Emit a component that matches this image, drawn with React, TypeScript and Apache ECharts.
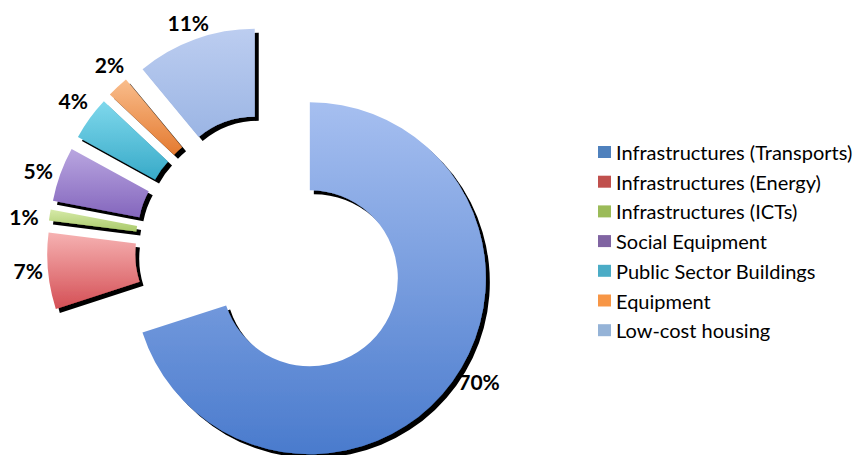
import React, { useEffect, useRef } from 'react';
import * as echarts from 'echarts';

// ---- data ----
const categories = [
  'Infrastructures (Transports)',
  'Infrastructures (Energy)',
  'Infrastructures (ICTs)',
  'Social Equipment',
  'Public Sector Buildings',
  'Equipment',
  'Low-cost housing',
];
const shares = [70, 7, 1, 5, 4, 2, 11];

// ---- styling ----
const legendColors = ['#4f81bd', '#c0504d', '#9bbb59', '#8064a2', '#4bacc6', '#f79646', '#95b3d7'];
const sliceTop = ['#a6bff0', '#f6b2b2', '#d6eaa8', '#b9a6e0', '#7fd8ec', '#f9bd8c', '#bccdf0'];
const sliceBottom = ['#4a7bcd', '#d44f55', '#a9c96a', '#8466bd', '#38aac8', '#e47a30', '#9bb5e4'];
const labelLineLen = [0, -1, -7, 12, 29.5, 29.8, 18];
const labelGap = [6, 6, 18, -4, -22, -27, -20];

export default function App() {
  const ref = useRef<HTMLDivElement>(null);

  useEffect(() => {
    if (!ref.current) return;
    const chart = echarts.init(ref.current, null, { renderer: 'svg' });

    const data = categories.map((name, i) => ({
      name,
      value: shares[i],
      selected: true,
      itemStyle: {
        color: new echarts.graphic.LinearGradient(0, 0, 0, 1, [
          { offset: 0, color: sliceTop[i] },
          { offset: 1, color: sliceBottom[i] },
        ]),
      },
      label: { distanceToLabelLine: labelGap[i] },
      labelLine: { show: false, length: labelLineLen[i], length2: 0 },
    }));

    chart.setOption({
      animation: false,
      backgroundColor: '#ffffff',
      legend: {
        orient: 'vertical',
        left: 598,
        top: 142,
        padding: 0,
        itemWidth: 13,
        itemHeight: 12,
        itemGap: 9.7,
        icon: 'rect',
        selectedMode: false,
        textStyle: {
          fontFamily: 'Lato',
          fontSize: 20,
          lineHeight: 20,
          color: '#000000',
        },
        data: categories.map((name, i) => ({
          name,
          itemStyle: { color: legendColors[i] },
        })),
      },
      series: [
        {
          type: 'pie',
          center: [271, 250],
          radius: [88, 176],
          startAngle: 90,
          clockwise: true,
          selectedMode: 'multiple',
          selectedOffset: 48,
          avoidLabelOverlap: false,
          emphasis: { disabled: true },
          itemStyle: {
            shadowColor: 'rgba(0,0,0,1)',
            shadowBlur: 1.5,
            shadowOffsetX: 4,
            shadowOffsetY: 4,
          },
          label: {
            show: true,
            position: 'outside',
            formatter: (p: any) => p.value + '%',
            fontFamily: 'Lato',
            fontWeight: 'bold',
            fontSize: 21,
            color: '#000000',
          },
          labelLine: { show: false },
          data,
        },
      ],
    });

    return () => chart.dispose();
  }, []);

  return (
    <div
      ref={ref}
      style={{ position: 'fixed', left: 0, top: 0, width: 857, height: 455 }}
    />
  );
}
